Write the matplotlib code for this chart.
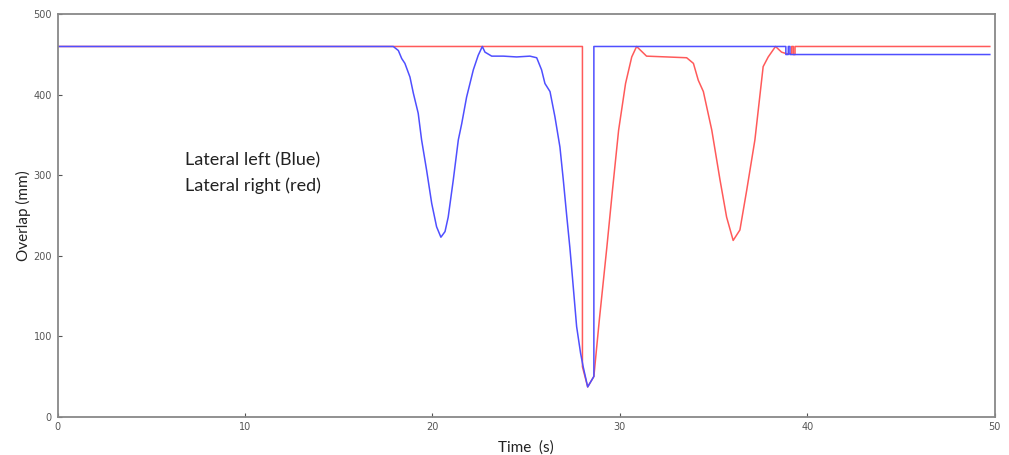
import matplotlib
matplotlib.use('Agg')
import matplotlib.pyplot as plt

# blue trace: lateral left
blue_t = [0, 17.91, 18.18, 18.36, 18.53, 18.8, 18.98, 19.24, 19.42, 19.69, 19.96, 20.22,
          20.45, 20.67, 20.84, 21.11, 21.38, 21.56, 21.82, 22.18, 22.44, 22.66, 22.8,
          23.16, 23.78, 24.49, 25.2, 25.56, 25.82, 26.0, 26.27, 26.53, 26.8, 26.98,
          27.16, 27.33, 27.42, 27.69, 27.9, 28.04, 28.28, 28.61, 28.61, 38.85, 38.85,
          38.98, 38.98, 39.07, 39.07, 49.73]
blue_y = [460, 460, 455, 445, 439, 422, 402, 377, 344, 306, 265, 236,
          223, 230, 248, 294, 344, 364, 397, 431, 449, 460, 453,
          448, 448, 447, 448, 446, 431, 414, 404, 373, 335, 294,
          250, 210, 186, 112, 79, 62, 37, 50, 460, 460, 450,
          450, 460, 460, 450, 450]

# red trace: lateral right
red_t = [0, 28.0, 28.0, 28.28, 28.61, 28.9, 29.3, 29.6, 29.93, 30.3, 30.63, 30.89, 31.42,
         32.5, 33.56, 33.92, 34.18, 34.45, 34.9, 35.34, 35.69, 36.04, 36.4, 36.76,
         37.2, 37.64, 37.91, 38.3, 38.62, 38.89, 39.16, 39.16, 39.25, 39.25, 39.34,
         39.34, 49.73]
red_y = [460, 460, 62, 37, 50, 120, 210, 281, 356, 414, 447, 460, 448,
         447, 446, 439, 418, 404, 356, 294, 248, 219, 232, 281,
         344, 435, 447, 460, 453, 451, 451, 460, 460, 450, 450,
         460, 460]

xticks = [0, 10, 20, 30, 40, 50]
yticks = [0, 100, 200, 300, 400, 500]

fig = plt.figure(figsize=(10.09, 4.55), dpi=100)
ax = fig.add_axes([0.057, 0.0842, 0.929, 0.8844])

ax.plot(red_t, red_y, color='#ff5a5a', lw=1.1)
ax.plot(blue_t, blue_y, color='#4f4fff', lw=1.1)

ax.set_xlim(0, 50)
ax.set_ylim(0, 500)
ax.set_xticks(xticks)
ax.set_yticks(yticks)
ax.tick_params(direction='in', length=3, labelsize=7, colors='#555555', pad=4)
for s in ax.spines.values():
    s.set_color('#888888')
    s.set_linewidth(1.3)

ax.set_xlabel('Time  (s)', fontsize=11, family='Lato', color='#222222', labelpad=6)
ax.set_ylabel('Overlap (mm)', fontsize=11, family='Lato', color='#222222', labelpad=2)

ax.text(6.8, 318, 'Lateral left (Blue)', fontsize=13, family='Lato', color='#222222', va='center')
ax.text(6.8, 287, 'Lateral right (red)', fontsize=13, family='Lato', color='#222222', va='center')

plt.savefig('out.png', dpi=100)
